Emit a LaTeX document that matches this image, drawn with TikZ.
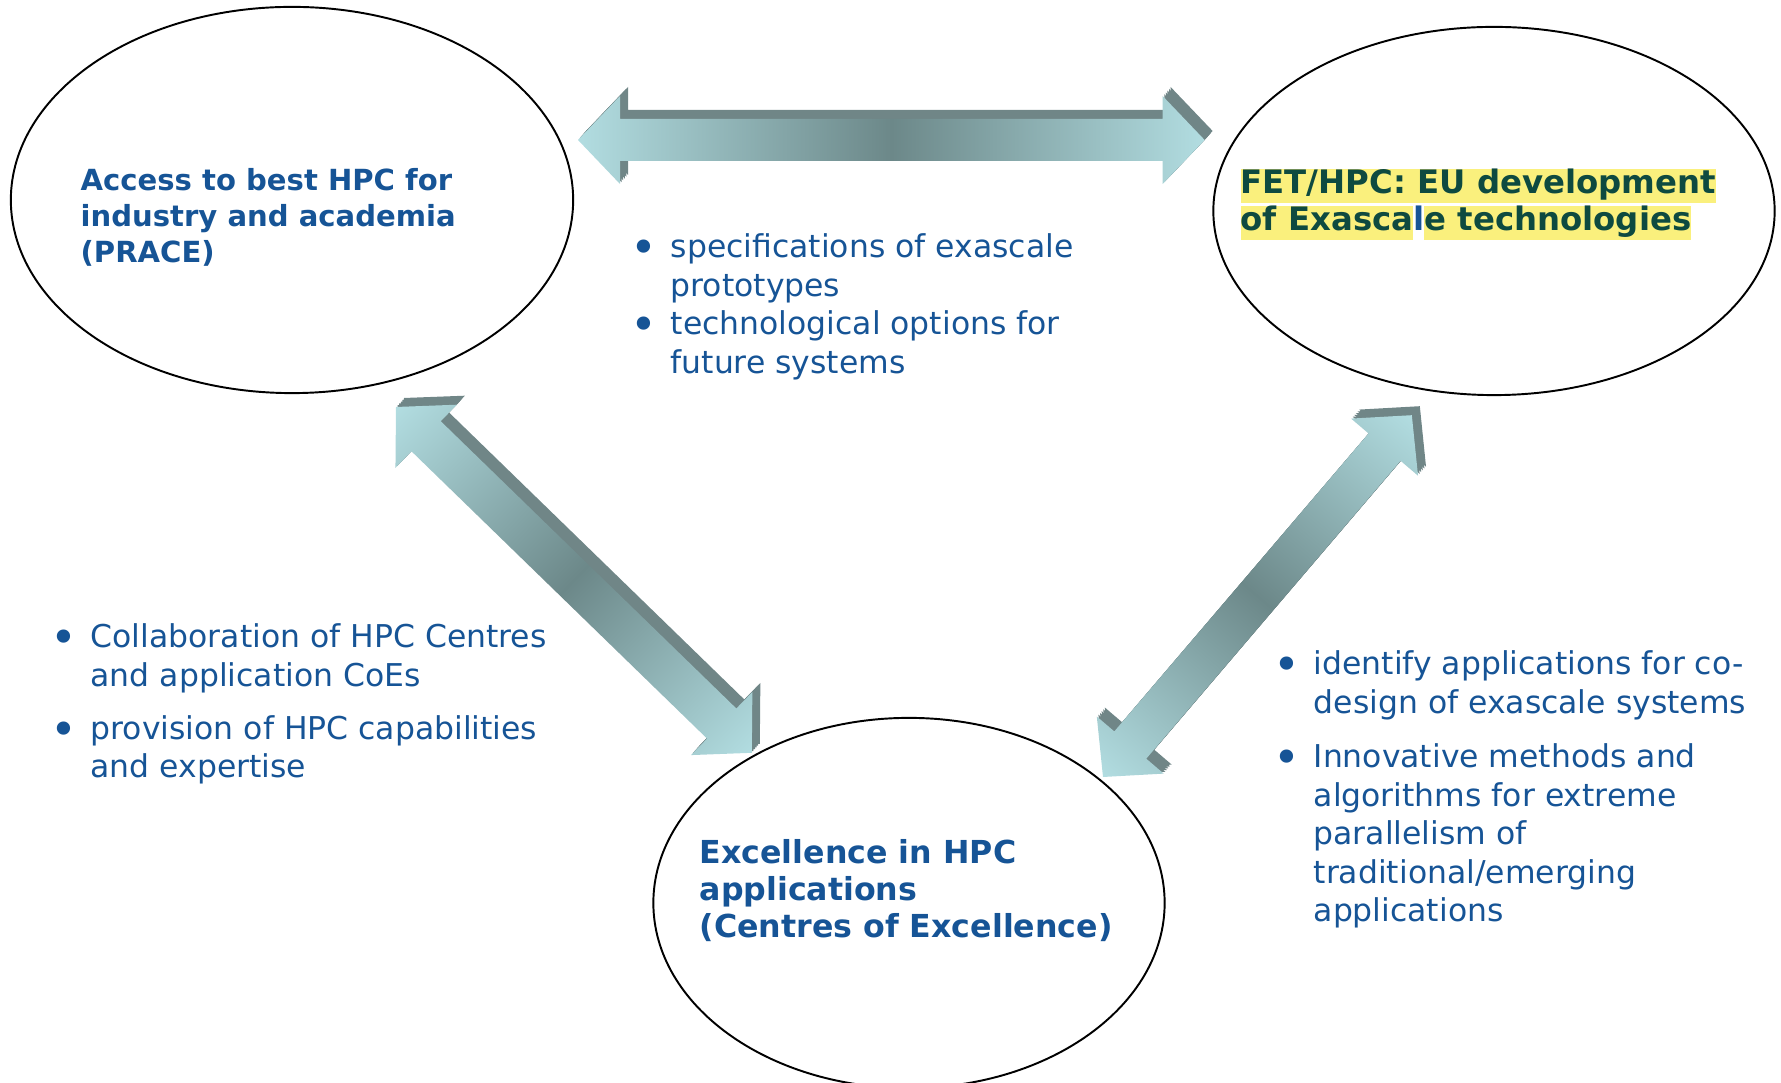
\documentclass[tikz,border=0pt]{standalone}
\usepackage{fontspec}
\usepackage{graphicx}
\setmainfont{DejaVu Sans}
\usetikzlibrary{shapes.geometric,calc}

\definecolor{hpcblue}{RGB}{22,84,150}
\definecolor{fetgreen}{RGB}{14,74,64}
\definecolor{hlyellow}{RGB}{250,240,125}
\definecolor{arrowlight}{RGB}{178,221,225}
\definecolor{arrowdark}{RGB}{108,136,137}
\definecolor{arrowside}{RGB}{112,134,135}

% outline of a double block arrow, tip at the origin, length \arrlen
\newcommand\arrowpath{(0,0) -- (42,44) -- (42,21) -- (\arrlen-42,21) -- (\arrlen-42,44)
  -- (\arrlen,0) -- (\arrlen-42,-44) -- (\arrlen-42,-21) -- (42,-21) -- (42,-44) -- cycle}

% raised double arrow from one tip to the other
\newcommand\blockarrow[2]{%
  \path let \p1=($(#2)-(#1)$) in
    \pgfextra{\pgfmathparse{atan2(\y1,\x1)}\xdef\arrang{\pgfmathresult}%
      \pgfmathparse{veclen(\x1,\y1)/0.2845276}\xdef\arrlen{\pgfmathresult}};
  \foreach \lift in {1,0.8,0.6,0.4,0.2}{
    \begin{scope}[transform canvas={shift={($(#1)+\lift*(8,-9)$)}, rotate=\arrang}]
      \fill[arrowtop] \arrowpath;
    \end{scope}}
  \begin{scope}[transform canvas={shift={(#1)}, rotate=\arrang}]
    \shade[arrowfront] \arrowpath;
  \end{scope}}

\newcommand\dotitem{\makebox[0.37cm][l]{\hspace{-1pt}\raisebox{-0.19em}{\scalebox{1.45}{\textbullet}}}}
\newcommand\hilite[1]{{\setlength\fboxsep{0pt}\colorbox{hlyellow}{\rule[-2.6pt]{0pt}{9.8pt}#1}}}

\tikzset{
  pillar/.style={ellipse, draw=black, line width=0.55pt, inner sep=0pt},
  title/.style={anchor=base west, inner sep=0pt, text=hpcblue},
  bullets/.style={anchor=base west, inner sep=0pt, text=hpcblue,
    font=\fontsize{8.94}{10.95}\selectfont},
  arrowtop/.style={fill=arrowside},
  arrowfront/.style={left color=arrowlight, right color=arrowlight, middle color=arrowdark},
}

\begin{document}
\begin{tikzpicture}[x=0.01cm, y=-0.01cm]
\useasboundingbox (0,0) rectangle (1781,1083);

% the three pillars
\node[pillar, minimum width=5.62cm, minimum height=3.86cm] (prace) at (292,200) {};
\node[pillar, minimum width=5.61cm, minimum height=3.68cm] (fethpc) at (1494,211) {};
\node[pillar, minimum width=5.11cm, minimum height=3.70cm] (coe) at (909,903) {};

\node[title, font=\fontsize{8.27}{10.1}\selectfont\bfseries] (pracetext) at (80,191)
  {\begin{tabular}[t]{@{}l@{}}Access to best HPC for\\industry and academia\\(PRACE)\end{tabular}};
\node[title, text=fetgreen, font=\fontsize{9.2}{10.5}\selectfont\bfseries] (fettext) at (1240,194)
  {\begin{tabular}[t]{@{}l@{}}\hilite{FET/HPC: EU development}\\
   \hilite{of Exasca}\textcolor{hpcblue}{l}\hilite{e technologies}\end{tabular}};
\node[title, font=\fontsize{9}{10.5}\selectfont\bfseries] (coetext) at (699,864)
  {\begin{tabular}[t]{@{}l@{}}Excellence in HPC\\applications\\(Centres of Excellence)\end{tabular}};

% what flows along each link
\node[bullets] (specs) at (633,258)
  {\begin{tabular}[t]{@{}l@{}l@{}}\dotitem & specifications of exascale\\ & prototypes\\
   \dotitem & technological options for\\ & future systems\end{tabular}};
\node[bullets] (collab) at (53,648)
  {\begin{tabular}[t]{@{}l@{}l@{}}\dotitem & Collaboration of HPC Centres\\ & and application CoEs\\[4pt]
   \dotitem & provision of HPC capabilities\\ & and expertise\end{tabular}};
\node[bullets] (codesign) at (1276,675)
  {\begin{tabular}[t]{@{}l@{}l@{}}\dotitem & identify applications for co-\\ & design of exascale systems\\[4.5pt]
   \dotitem & Innovative methods and\\ & algorithms for extreme\\ & parallelism of\\
   & traditional/emerging\\ & applications\end{tabular}};

% arrow tips
\coordinate (toparrowl) at (578,140);
\coordinate (toparrowr) at (1205,140);
\coordinate (leftarrowa) at (396,407);
\coordinate (leftarrowb) at (752,753);
\coordinate (rightarrowa) at (1103,777);
\coordinate (rightarrowb) at (1412,415);

\blockarrow{toparrowl}{toparrowr}
\blockarrow{leftarrowa}{leftarrowb}
\blockarrow{rightarrowa}{rightarrowb}
\end{tikzpicture}
\end{document}
